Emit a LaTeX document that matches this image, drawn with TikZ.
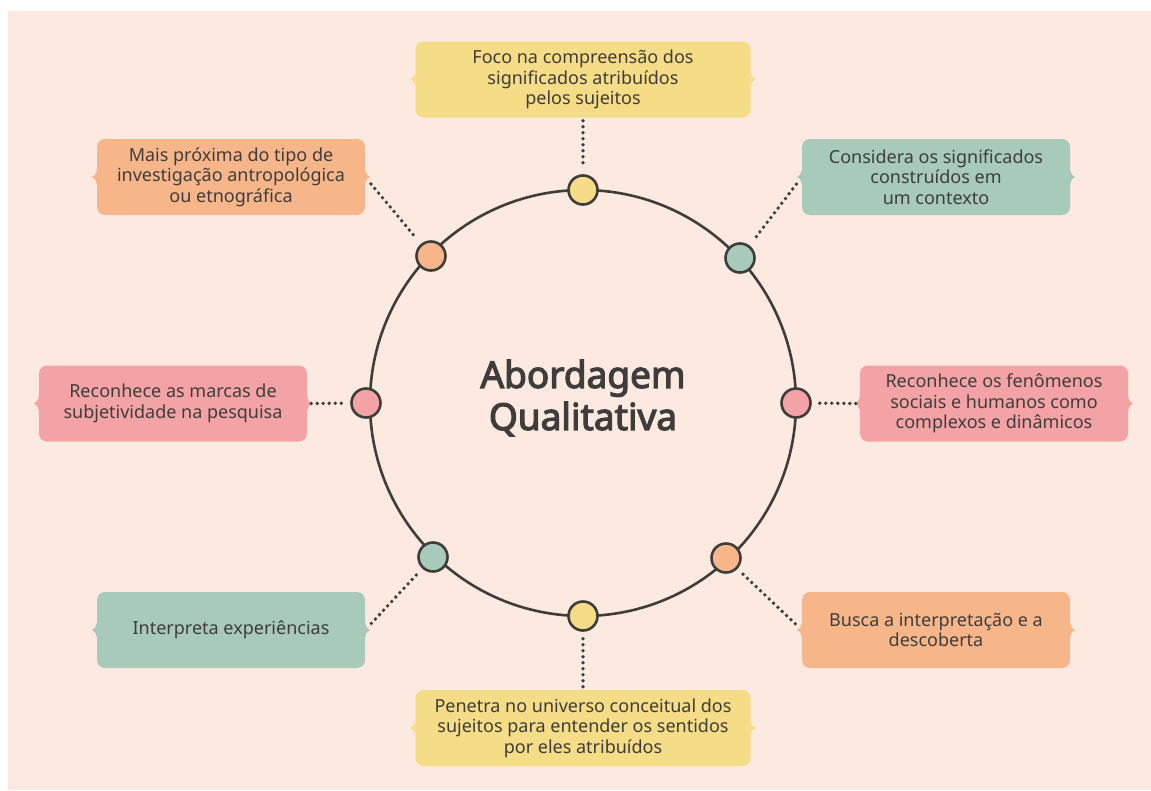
\documentclass[tikz,border=0pt]{standalone}
\usepackage{fontspec}
\setmainfont{Noto Sans}
\newfontfamily\headfont{Noto Sans}[FakeBold=3.2]
\usetikzlibrary{calc}
\definecolor{paper}{HTML}{FCEAE0}
\definecolor{ink}{HTML}{3F3D3B}
\definecolor{sun}{HTML}{F5DC86}
\definecolor{sage}{HTML}{A7CABB}
\definecolor{apricot}{HTML}{F7B68A}
\definecolor{rose}{HTML}{F3A3A6}

% small brace-like points on the left and right sides of a card
\newcommand\cardnotch[2]{%
  \fill[#2] ([yshift=7pt]#1.west) .. controls ([xshift=-1.5pt,yshift=2pt]#1.west) .. ([xshift=-5pt]#1.west)
    .. controls ([xshift=-1.5pt,yshift=-2pt]#1.west) .. ([yshift=-7pt]#1.west) -- cycle;
  \fill[#2] ([yshift=7pt]#1.east) .. controls ([xshift=1.5pt,yshift=2pt]#1.east) .. ([xshift=5pt]#1.east)
    .. controls ([xshift=1.5pt,yshift=-2pt]#1.east) .. ([yshift=-7pt]#1.east) -- cycle;
}

\begin{document}
\begin{tikzpicture}[x=1pt,y=-1pt,
  card/.style={fill=#1, rounded corners=8pt, minimum width=268pt, minimum height=76pt,
    align=center, text=ink, font=\fontsize{18}{20.5}\selectfont, inner sep=0pt},
  widecard/.style={card=#1, minimum width=335pt},
  knot/.style={circle, draw=ink, line width=2.6pt, fill=#1, minimum size=29pt, inner sep=0pt},
  dots/.style={draw=ink, line width=3.8pt, line cap=round, dash pattern=on 0pt off 6pt},
]
% page and background
\fill[white] (0,0) rectangle (1151,790);
\fill[paper] (8,11) rectangle (1151,790);
\useasboundingbox (0,0) rectangle (1151,790);

% central ring
\node[circle, draw=ink, line width=2.6pt, minimum size=426pt, inner sep=0pt] (ring) at (583,403) {};
\node[text=ink, align=center, font=\headfont\fontsize{37}{42}\selectfont] (title) at (583,398)
  {Abordagem\\Qualitativa};

% knots on the ring
\node[knot=sun]     (k1) at (583,190) {};
\node[knot=sage]    (k2) at (740,258) {};
\node[knot=rose]    (k5) at (796,403) {};
\node[knot=apricot] (k7) at (726,558) {};
\node[knot=sun]     (k8) at (583,616) {};
\node[knot=sage]    (k6) at (433,557) {};
\node[knot=rose]    (k4) at (366,403) {};
\node[knot=apricot] (k3) at (431,256) {};

% cards
\node[widecard=sun] (b1) at (583,79.5)
  {Foco na compreensão dos\\significados atribuídos\\pelos sujeitos};
\node[card=sage] (b2) at (936,177)
  {Considera os significados\\construídos em\\um contexto};
\node[card=apricot] (b3) at (231,177)
  {Mais próxima do tipo de\\investigação antropológica\\ou etnográfica};
\node[card=rose] (b4) at (173,403.5)
  {Reconhece as marcas de\\subjetividade na pesquisa};
\node[card=rose] (b5) at (994,403.5)
  {Reconhece os fenômenos\\sociais e humanos como\\complexos e dinâmicos};
\node[card=sage] (b6) at (231,630)
  {\raisebox{4pt}{Interpreta experiências}};
\node[card=apricot] (b7) at (936,630)
  {Busca a interpretação e a\\descoberta};
\node[widecard=sun] (b8) at (583,728)
  {Penetra no universo conceitual dos\\sujeitos para entender os sentidos\\por eles atribuídos};

\cardnotch{b1}{sun}
\cardnotch{b2}{sage}
\cardnotch{b3}{apricot}
\cardnotch{b4}{rose}
\cardnotch{b5}{rose}
\cardnotch{b6}{sage}
\cardnotch{b7}{apricot}
\cardnotch{b8}{sun}

% dotted connectors
\draw[dots, shorten <=3pt, shorten >=7pt] (b1.south) -- (k1);
\draw[dots, shorten <=9pt, shorten >=7pt] (b2.west) -- (k2);
\draw[dots, shorten <=9pt, shorten >=7pt] (b3.east) -- (k3);
\draw[dots, shorten <=4pt, shorten >=5pt] (b4.east) -- (k4);
\draw[dots, shorten <=4pt, shorten >=5pt] (b5.west) -- (k5);
\draw[dots, shorten <=9pt, shorten >=7pt] (b6.east) -- (k6);
\draw[dots, shorten <=9pt, shorten >=7pt] (b7.west) -- (k7);
\draw[dots, shorten <=3pt, shorten >=7pt] (b8.north) -- (k8);
\end{tikzpicture}
\end{document}
